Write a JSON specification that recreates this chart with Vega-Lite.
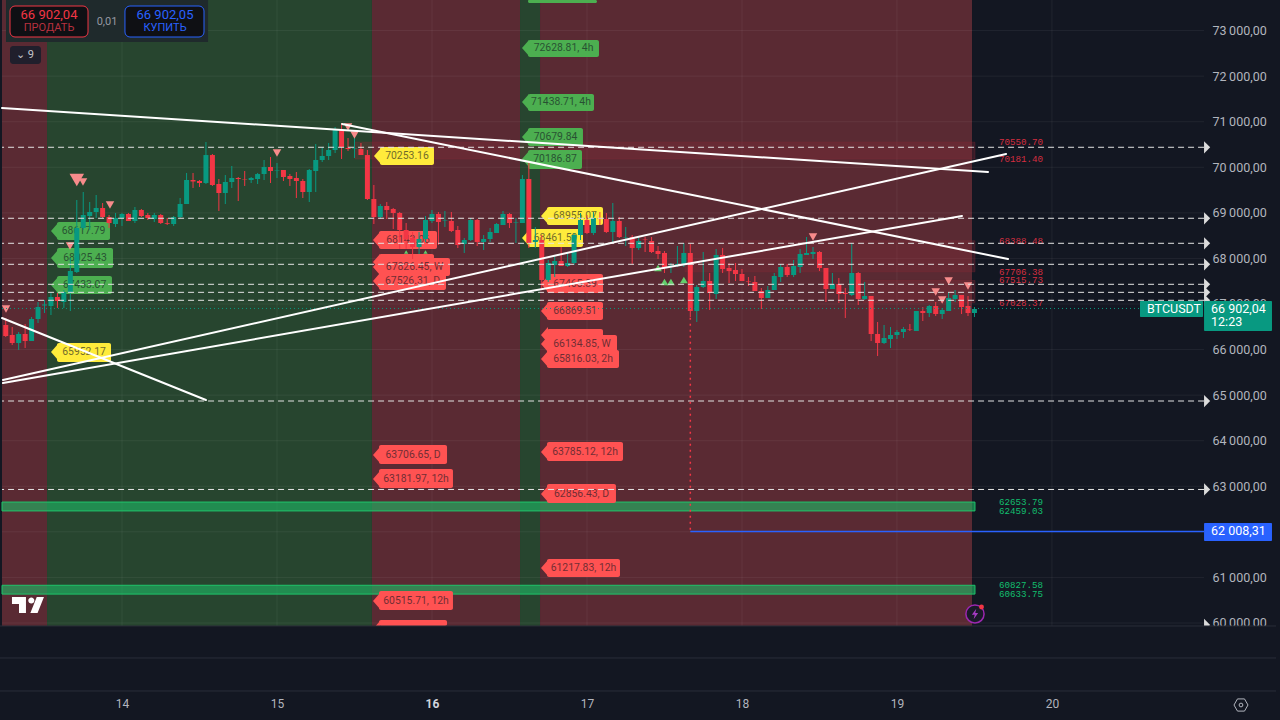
{
"$schema":"https://vega.github.io/schema/vega-lite/v6.json",
"width":1280,"height":720,"padding":0,"autosize":{"type":"none"},
"background":"#131722",
"config":{"view":{"stroke":null}},
"resolve":{"scale":{"color":"independent"}},
"datasets":{
"zones":[
{"h":-18.58,"h2":-11.61,"p":73671,"p2":59934,"kind":"sell"},
{"h":-11.61,"h2":38.71,"p":73671,"p2":59934,"kind":"buy"},
{"h":38.71,"h2":61.63,"p":73671,"p2":59934,"kind":"sell"},
{"h":61.63,"h2":64.73,"p":73671,"p2":59934,"kind":"buy"},
{"h":64.73,"h2":131.62,"p":73671,"p2":59934,"kind":"sell"}],
"lines":[
{"kind":"grid","h":-18.58,"h2":167.55,"p":60000,"p2":60000},{"kind":"grid","h":-18.58,"h2":167.55,"p":61000,"p2":61000},{"kind":"grid","h":-18.58,"h2":167.55,"p":62000,"p2":62000},{"kind":"grid","h":-18.58,"h2":167.55,"p":63000,"p2":63000},{"kind":"grid","h":-18.58,"h2":167.55,"p":64000,"p2":64000},{"kind":"grid","h":-18.58,"h2":167.55,"p":65000,"p2":65000},{"kind":"grid","h":-18.58,"h2":167.55,"p":66000,"p2":66000},{"kind":"grid","h":-18.58,"h2":167.55,"p":67000,"p2":67000},{"kind":"grid","h":-18.58,"h2":167.55,"p":68000,"p2":68000},{"kind":"grid","h":-18.58,"h2":167.55,"p":69000,"p2":69000},{"kind":"grid","h":-18.58,"h2":167.55,"p":70000,"p2":70000},{"kind":"grid","h":-18.58,"h2":167.55,"p":71000,"p2":71000},{"kind":"grid","h":-18.58,"h2":167.55,"p":72000,"p2":72000},{"kind":"grid","h":-18.58,"h2":167.55,"p":73000,"p2":73000},
{"kind":"grid","h":0,"h2":0,"p":73671,"p2":59934},{"kind":"grid","h":24,"h2":24,"p":73671,"p2":59934},{"kind":"grid","h":48,"h2":48,"p":73671,"p2":59934},{"kind":"grid","h":72,"h2":72,"p":73671,"p2":59934},{"kind":"grid","h":96,"h2":96,"p":73671,"p2":59934},{"kind":"grid","h":120,"h2":120,"p":73671,"p2":59934},{"kind":"grid","h":144,"h2":144,"p":73671,"p2":59934},
{"kind":"level","h":167.55,"h2":-18.58,"p":70439,"p2":70439},{"kind":"level","h":167.55,"h2":-18.58,"p":68881,"p2":68881},{"kind":"level","h":167.55,"h2":-18.58,"p":68332,"p2":68332},{"kind":"level","h":167.55,"h2":-18.58,"p":67871,"p2":67871},{"kind":"level","h":167.55,"h2":-18.58,"p":67432,"p2":67432},{"kind":"level","h":167.55,"h2":-18.58,"p":67256,"p2":67256},{"kind":"level","h":167.55,"h2":-18.58,"p":67081,"p2":67081},{"kind":"level","h":167.55,"h2":-18.58,"p":64871,"p2":64871},{"kind":"level","h":167.55,"h2":-18.58,"p":62930,"p2":62930},{"kind":"level","h":167.55,"h2":167.55,"p":59956,"p2":59956},
{"kind":"trend","h":-18.58,"h2":134.1,"p":71301,"p2":69897},
{"kind":"trend","h":34.07,"h2":137.2,"p":70950,"p2":67987},
{"kind":"trend","h":-18.43,"h2":136.9,"p":65332,"p2":70292},
{"kind":"trend","h":-18.43,"h2":130.07,"p":65266,"p2":68931},
{"kind":"trend","h":-18.58,"h2":13.0,"p":66692,"p2":64893},
{"kind":"last","h":-18.58,"h2":157.63,"p":66902,"p2":66902},
{"kind":"blue","h":88,"h2":167.55,"p":62008.31,"p2":62008.31},
{"kind":"hit","h":88,"h2":88,"p":66700,"p2":62017},
{"kind":"sep","h":-18.89,"h2":178.7,"p":59934,"p2":59934},
{"kind":"sep","h":-18.89,"h2":178.7,"p":59232,"p2":59232},
{"kind":"sep","h":-18.89,"h2":178.7,"p":58508,"p2":58508}],
"bands":[
{"kind":"red","h":36.08,"h2":132.08,"p":70550.7,"p2":70181.4},
{"kind":"red","h":87.18,"h2":132.08,"p":68388.48,"p2":67706.38},
{"kind":"red","h":114.74,"h2":132.08,"p":67515.73,"p2":67028.37}],
"greens":[
{"h":-18.58,"h2":132.08,"p":62653.79,"p2":62459.03},
{"h":-18.58,"h2":132.08,"p":60827.58,"p2":60633.75}],
"tags":[
{"kind":"green","h":62.87,"h2":73.55,"p":73820,"top":73671,"bot":73605},
{"kind":"green","h":62.87,"h2":73.86,"p":72618,"top":72793,"bot":72420},
{"kind":"green","h":62.87,"h2":73.09,"p":71433,"top":71608,"bot":71235},
{"kind":"green","h":62.87,"h2":71.38,"p":70665,"top":70862,"bot":70467},
{"kind":"green","h":62.87,"h2":71.23,"p":70182,"top":70379,"bot":69962},
{"kind":"green","h":-10.06,"h2":-1.86,"p":68602,"top":68799,"bot":68404},
{"kind":"green","h":-10.06,"h2":-1.39,"p":68009,"top":68229,"bot":67790},
{"kind":"green","h":-10.06,"h2":-1.55,"p":67417,"top":67614,"bot":67219},
{"kind":"yellow","h":-10.06,"h2":-1.7,"p":65947,"top":66144,"bot":65727},
{"kind":"yellow","h":39.95,"h2":48.31,"p":70248,"top":70445,"bot":70050},
{"kind":"yellow","h":65.81,"h2":74.48,"p":68931,"top":69129,"bot":68733},
{"kind":"yellow","h":62.87,"h2":71.38,"p":68448,"top":68646,"bot":68251},
{"kind":"red","h":39.8,"h2":48.78,"p":68404,"top":68602,"bot":68207},
{"kind":"red","h":39.8,"h2":48.31,"p":67922,"top":68097,"bot":67746},
{"kind":"red","h":39.8,"h2":50.17,"p":67505,"top":67680,"bot":67307},
{"kind":"red","h":39.8,"h2":50.79,"p":67812,"top":68009,"bot":67614},
{"kind":"red","h":65.81,"h2":74.48,"p":67439,"top":67658,"bot":67241},
{"kind":"red","h":65.81,"h2":74.48,"p":66846,"top":67044,"bot":66649},
{"kind":"red","h":65.81,"h2":74.48,"p":66320,"top":66451,"bot":66120},
{"kind":"red","h":65.81,"h2":76.65,"p":66122,"top":66320,"bot":65925},
{"kind":"red","h":65.81,"h2":76.96,"p":65793,"top":65991,"bot":65595},
{"kind":"red","h":39.8,"h2":50.33,"p":63686,"top":63906,"bot":63489},
{"kind":"red","h":39.8,"h2":51.25,"p":63160,"top":63379,"bot":62962},
{"kind":"red","h":65.81,"h2":77.58,"p":63752,"top":63972,"bot":63555},
{"kind":"red","h":65.81,"h2":76.49,"p":62830,"top":63050,"bot":62633},
{"kind":"red","h":65.81,"h2":77.11,"p":61207,"top":61404,"bot":61009},
{"kind":"red","h":39.8,"h2":51.25,"p":60483,"top":60702,"bot":60285},
{"kind":"red","h":39.8,"h2":50.33,"p":59868,"top":60066,"bot":59934}],
"tagText":[
{"h":68.37,"p":72618,"text":"72628.81, 4h"},{"h":67.98,"p":71433,"text":"71438.71, 4h"},{"h":67.13,"p":70665,"text":"70679.84"},{"h":67.05,"p":70182,"text":"70186.87"},
{"h":-5.96,"p":68602,"text":"68617.79"},{"h":-5.73,"p":68009,"text":"68025.43"},{"h":-5.81,"p":67417,"text":"67433.07"},{"h":-5.88,"p":65947,"text":"65952.17"},
{"h":44.13,"p":70248,"text":"70253.16"},{"h":70.15,"p":68931,"text":"68955.07"},{"h":67.13,"p":68448,"text":"68461.59"},{"h":44.29,"p":68404,"text":"68143.06"},
{"h":44.99,"p":67505,"text":"67526.31, D"},{"h":45.3,"p":67812,"text":"67826.45, W"},{"h":70.15,"p":67439,"text":"67465.39"},{"h":70.15,"p":66846,"text":"66869.51"},
{"h":71.23,"p":66122,"text":"66134.85, W"},{"h":71.39,"p":65793,"text":"65816.03, 2h"},{"h":45.07,"p":63686,"text":"63706.65, D"},{"h":45.53,"p":63160,"text":"63181.97, 12h"},
{"h":71.7,"p":63752,"text":"63785.12, 12h"},{"h":71.15,"p":62830,"text":"62856.43, D"},{"h":71.46,"p":61207,"text":"61217.83, 12h"},{"h":45.53,"p":60483,"text":"60515.71, 12h"}],
"candles":[
{"h":-18,"o":66539,"hi":66692,"lo":66276,"c":66298},{"h":-17,"o":66320,"hi":66495,"lo":66100,"c":66144},{"h":-16,"o":66144,"hi":66386,"lo":65991,"c":66342},{"h":-15,"o":66342,"hi":66561,"lo":66034,"c":66188},{"h":-14,"o":66188,"hi":66714,"lo":66188,"c":66671},{"h":-13,"o":66671,"hi":67044,"lo":66583,"c":66934},{"h":-12,"o":66967,"hi":67088,"lo":66802,"c":66989},{"h":-11,"o":66956,"hi":67241,"lo":66758,"c":67154},{"h":-10,"o":67154,"hi":67241,"lo":66912,"c":67066},{"h":-9,"o":67044,"hi":67307,"lo":66912,"c":67263},
{"h":-8,"o":67241,"hi":68009,"lo":66846,"c":67724},{"h":-7,"o":67702,"hi":69282,"lo":67680,"c":68668},{"h":-6,"o":68668,"hi":69458,"lo":68624,"c":68953},{"h":-5,"o":68931,"hi":69238,"lo":68624,"c":69019},{"h":-4,"o":69019,"hi":69392,"lo":68887,"c":69107},{"h":-3,"o":69107,"hi":69216,"lo":68887,"c":68909},{"h":-2,"o":68909,"hi":68953,"lo":68668,"c":68777},{"h":-1,"o":68755,"hi":68997,"lo":68690,"c":68887},{"h":0,"o":68887,"hi":68997,"lo":68712,"c":68975},{"h":1,"o":68975,"hi":68997,"lo":68821,"c":68821},
{"h":2,"o":68821,"hi":69128,"lo":68777,"c":69063},{"h":3,"o":69063,"hi":69085,"lo":68909,"c":68931},{"h":4,"o":68953,"hi":68997,"lo":68843,"c":68887},{"h":5,"o":68865,"hi":68997,"lo":68799,"c":68953},{"h":6,"o":68953,"hi":68975,"lo":68755,"c":68777},{"h":7,"o":68777,"hi":68887,"lo":68733,"c":68760},{"h":8,"o":68755,"hi":68931,"lo":68712,"c":68909},{"h":9,"o":68909,"hi":69326,"lo":68887,"c":69194},{"h":10,"o":69194,"hi":69875,"lo":69194,"c":69721},{"h":11,"o":69721,"hi":69875,"lo":69546,"c":69688},
{"h":12,"o":69699,"hi":69721,"lo":69568,"c":69655},{"h":13,"o":69655,"hi":70555,"lo":69633,"c":70269},{"h":14,"o":70269,"hi":70291,"lo":69590,"c":69611},{"h":15,"o":69633,"hi":69743,"lo":69041,"c":69436},{"h":16,"o":69436,"hi":69830,"lo":69194,"c":69677},{"h":17,"o":69677,"hi":70028,"lo":69546,"c":69765},{"h":18,"o":69765,"hi":69787,"lo":69260,"c":69743},{"h":19,"o":69743,"hi":69918,"lo":69590,"c":69733},{"h":20,"o":69721,"hi":69787,"lo":69655,"c":69765},{"h":21,"o":69743,"hi":69875,"lo":69633,"c":69852},
{"h":22,"o":69852,"hi":70160,"lo":69721,"c":70006},{"h":23,"o":70006,"hi":70226,"lo":69655,"c":69918},{"h":24,"o":69918,"hi":70094,"lo":69765,"c":69929},{"h":25,"o":69940,"hi":69940,"lo":69699,"c":69787},{"h":26,"o":69809,"hi":69852,"lo":69590,"c":69743},{"h":27,"o":69765,"hi":69896,"lo":69326,"c":69699},{"h":28,"o":69699,"hi":69743,"lo":69326,"c":69458},{"h":29,"o":69458,"hi":69962,"lo":69238,"c":69940},{"h":30,"o":69918,"hi":70511,"lo":69458,"c":70160},{"h":31,"o":70160,"hi":70445,"lo":70116,"c":70248},
{"h":32,"o":70248,"hi":70533,"lo":70160,"c":70379},{"h":33,"o":70379,"hi":70884,"lo":70313,"c":70818},{"h":34,"o":70818,"hi":70972,"lo":70182,"c":70445},{"h":35,"o":70423,"hi":70643,"lo":70357,"c":70401},{"h":36,"o":70412,"hi":70708,"lo":70204,"c":70423},{"h":37,"o":70401,"hi":70533,"lo":70269,"c":70269},{"h":38,"o":70269,"hi":70379,"lo":69282,"c":69304},{"h":39,"o":69304,"hi":69611,"lo":68755,"c":68909},{"h":40,"o":68909,"hi":69194,"lo":68865,"c":69150},{"h":41,"o":69150,"hi":69238,"lo":68865,"c":69063},
{"h":42,"o":69085,"hi":69107,"lo":68646,"c":68997},{"h":43,"o":68997,"hi":69019,"lo":68207,"c":68624},{"h":44,"o":68624,"hi":68777,"lo":68207,"c":68426},{"h":45,"o":68448,"hi":68580,"lo":67987,"c":68251},{"h":46,"o":68251,"hi":68580,"lo":68097,"c":68426},{"h":47,"o":68426,"hi":68931,"lo":68360,"c":68843},{"h":48,"o":68821,"hi":69063,"lo":68777,"c":68975},{"h":49,"o":68975,"hi":69019,"lo":68294,"c":68799},{"h":50,"o":68832,"hi":69041,"lo":68690,"c":68843},{"h":51,"o":68821,"hi":69019,"lo":68580,"c":68602},
{"h":52,"o":68624,"hi":68712,"lo":68228,"c":68294},{"h":53,"o":68316,"hi":68448,"lo":68119,"c":68404},{"h":54,"o":68404,"hi":68887,"lo":68382,"c":68843},{"h":55,"o":68843,"hi":68865,"lo":68272,"c":68360},{"h":56,"o":68360,"hi":68514,"lo":68185,"c":68426},{"h":57,"o":68426,"hi":68668,"lo":68360,"c":68580},{"h":58,"o":68558,"hi":68777,"lo":68558,"c":68755},{"h":59,"o":68733,"hi":69041,"lo":68733,"c":68975},{"h":60,"o":68975,"hi":68997,"lo":68668,"c":68777},{"h":61,"o":68788,"hi":68887,"lo":68338,"c":68799},
{"h":62,"o":68777,"hi":69830,"lo":68777,"c":69743},{"h":63,"o":69743,"hi":70116,"lo":68228,"c":68338},{"h":64,"o":68360,"hi":68690,"lo":68228,"c":68404},{"h":65,"o":68404,"hi":68514,"lo":67307,"c":67527},{"h":66,"o":67527,"hi":67966,"lo":67483,"c":67900},{"h":67,"o":67856,"hi":68053,"lo":67592,"c":67944},{"h":68,"o":67944,"hi":68251,"lo":67834,"c":67834},{"h":69,"o":67834,"hi":68119,"lo":67812,"c":67900},{"h":70,"o":67900,"hi":68558,"lo":67856,"c":68514},{"h":71,"o":68514,"hi":68997,"lo":68404,"c":68843},
{"h":72,"o":68843,"hi":68953,"lo":68536,"c":68558},{"h":73,"o":68558,"hi":69019,"lo":68514,"c":68887},{"h":74,"o":68887,"hi":69019,"lo":68733,"c":68876},{"h":75,"o":68865,"hi":68997,"lo":68558,"c":68580},{"h":76,"o":68580,"hi":69216,"lo":68360,"c":68821},{"h":77,"o":68821,"hi":68909,"lo":68448,"c":68470},{"h":78,"o":68459,"hi":68690,"lo":68272,"c":68470},{"h":79,"o":68470,"hi":68514,"lo":67878,"c":68228},{"h":80,"o":68228,"hi":68470,"lo":68185,"c":68382},{"h":81,"o":68415,"hi":68470,"lo":68141,"c":68404},
{"h":82,"o":68382,"hi":68470,"lo":68119,"c":68141},{"h":83,"o":68163,"hi":68272,"lo":67987,"c":68097},{"h":84,"o":68119,"hi":68163,"lo":67680,"c":67790},{"h":85,"o":67823,"hi":67900,"lo":67680,"c":67845},{"h":86,"o":67834,"hi":68272,"lo":67812,"c":67878},{"h":87,"o":67878,"hi":68338,"lo":67812,"c":68119},{"h":88,"o":68119,"hi":68316,"lo":66714,"c":66846},{"h":89,"o":66846,"hi":67417,"lo":66605,"c":67373},{"h":90,"o":67373,"hi":68141,"lo":67351,"c":67505},{"h":91,"o":67505,"hi":67680,"lo":66868,"c":67241},
{"h":92,"o":67219,"hi":68207,"lo":67110,"c":68075},{"h":93,"o":68075,"hi":68228,"lo":67680,"c":67768},{"h":94,"o":67790,"hi":67900,"lo":67461,"c":67724},{"h":95,"o":67746,"hi":67900,"lo":67505,"c":67658},{"h":96,"o":67658,"hi":67768,"lo":67505,"c":67505},{"h":97,"o":67494,"hi":67592,"lo":67395,"c":67483},{"h":98,"o":67483,"hi":67614,"lo":67285,"c":67285},{"h":99,"o":67285,"hi":67351,"lo":66890,"c":67132},{"h":100,"o":67132,"hi":67395,"lo":67132,"c":67307},{"h":101,"o":67307,"hi":67680,"lo":67307,"c":67614},
{"h":102,"o":67592,"hi":67878,"lo":67483,"c":67812},{"h":103,"o":67812,"hi":67878,"lo":67592,"c":67636},{"h":104,"o":67636,"hi":67966,"lo":67592,"c":67834},{"h":105,"o":67812,"hi":68207,"lo":67680,"c":68097},{"h":106,"o":68075,"hi":68470,"lo":68075,"c":68119},{"h":107,"o":68097,"hi":68251,"lo":67987,"c":68141},{"h":108,"o":68141,"hi":68163,"lo":67724,"c":67790},{"h":109,"o":67790,"hi":67790,"lo":67044,"c":67329},{"h":110,"o":67329,"hi":67680,"lo":67329,"c":67439},{"h":111,"o":67439,"hi":67570,"lo":67022,"c":67219},
{"h":112,"o":67241,"hi":67351,"lo":66692,"c":67219},{"h":113,"o":67197,"hi":68338,"lo":67175,"c":67680},{"h":114,"o":67680,"hi":67702,"lo":66978,"c":67110},{"h":115,"o":67110,"hi":67483,"lo":67088,"c":67175},{"h":116,"o":67175,"hi":67175,"lo":66188,"c":66342},{"h":117,"o":66342,"hi":66605,"lo":65859,"c":66144},{"h":118,"o":66144,"hi":66539,"lo":66122,"c":66254},{"h":119,"o":66232,"hi":66495,"lo":66034,"c":66320},{"h":120,"o":66320,"hi":66430,"lo":66232,"c":66386},{"h":121,"o":66386,"hi":66495,"lo":66254,"c":66451},
{"h":122,"o":66440,"hi":66561,"lo":66408,"c":66430},{"h":123,"o":66408,"hi":66846,"lo":66408,"c":66846},{"h":124,"o":66846,"hi":66934,"lo":66627,"c":66802},{"h":125,"o":66802,"hi":66978,"lo":66714,"c":66956},{"h":126,"o":66956,"hi":67044,"lo":66736,"c":66780},{"h":127,"o":66780,"hi":66912,"lo":66671,"c":66868},{"h":128,"o":66846,"hi":67263,"lo":66846,"c":67132},{"h":129,"o":67110,"hi":67307,"lo":67044,"c":67197},{"h":130,"o":67197,"hi":67197,"lo":66780,"c":66934},{"h":131,"o":66956,"hi":67175,"lo":66736,"c":66802},{"h":132,"o":66802,"hi":66934,"lo":66714,"c":66890}],
"markers":[
{"kind":"big","h":-7,"p":69721},
{"kind":"down","h":-6.04,"p":69677},{"kind":"down","h":-17.96,"p":66890},{"kind":"down","h":-8.05,"p":68273},{"kind":"down","h":-1.86,"p":69172},{"kind":"down","h":24,"p":70314},{"kind":"down","h":35,"p":70884},{"kind":"down","h":36,"p":70709},{"kind":"down","h":107,"p":68470},{"kind":"down","h":126,"p":67263},{"kind":"down","h":127,"p":67088},{"kind":"down","h":128,"p":67505},{"kind":"down","h":131,"p":67395},
{"kind":"up","h":83,"p":67790},{"kind":"up","h":84,"p":67483},{"kind":"up","h":85,"p":67483},{"kind":"up","h":87,"p":67527},
{"kind":"tiny","h":44,"p":68141},{"kind":"tiny","h":47,"p":68141}],
"bandText":[
{"kind":"red","h":135.8,"p":70550.7,"text":"70550.70"},{"kind":"red","h":135.8,"p":70181.4,"text":"70181.40"},{"kind":"red","h":135.8,"p":68388.48,"text":"68388.48"},{"kind":"red","h":135.8,"p":67706.38,"text":"67706.38"},{"kind":"red","h":135.8,"p":67515.73,"text":"67515.73"},{"kind":"red","h":135.8,"p":67028.37,"text":"67028.37"},
{"kind":"green","h":135.8,"p":62653.79,"text":"62653.79"},{"kind":"green","h":135.8,"p":62459.03,"text":"62459.03"},{"kind":"green","h":135.8,"p":60827.58,"text":"60827.58"},{"kind":"green","h":135.8,"p":60633.75,"text":"60633.75"}],
"priceBoxes":[
{"kind":"last","h":157.63,"h2":167.39,"p":67066,"p2":66715},
{"kind":"last","h":167.55,"h2":178.07,"p":67066,"p2":66407},
{"kind":"blue","h":167.55,"h2":178.07,"p":62194,"p2":61799}],
"priceText":[
{"h":157.63,"p":66890,"text":"BTCUSDT"},
{"h":167.55,"p":66890,"text":"66 902,04"},
{"h":167.55,"p":66605,"text":"12:23"},
{"h":167.55,"p":62017,"text":"62 008,31"}],
"uiBoxes":[
{"kind":"panel","h":-17.96,"h2":13.32,"p":73671,"p2":72749},
{"kind":"sell","h":-17.34,"h2":-5.26,"p":73539,"p2":72859},
{"kind":"buy","h":0.46,"h2":12.7,"p":73539,"p2":72859},
{"kind":"count","h":-17.34,"h2":-12.54,"p":72662,"p2":72267}],
"uiBig":[
{"kind":"sell","h":-11.3,"p":73342,"text":"66 902,04"},
{"kind":"buy","h":6.66,"p":73342,"text":"66 902,05"}],
"uiSmall":[
{"kind":"sell","h":-11.3,"p":73046,"text":"ПРОДАТЬ"},
{"kind":"buy","h":6.66,"p":73046,"text":"КУПИТЬ"},
{"kind":"muted","h":-2.32,"p":73188,"text":"0,01"},
{"kind":"light","h":-15.02,"p":72464,"text":"⌄ 9"}],
"icons":[
{"kind":"logo","h":-14.56,"p":60395},
{"kind":"ring","h":132.08,"p":60198},
{"kind":"bolt","h":132.08,"p":60198},
{"kind":"dot","h":133.09,"p":60351},
{"kind":"gear","h":173.27,"p":58200},
{"kind":"gearHole","h":173.27,"p":58200}]
},
"encoding":{
"x":{"field":"h","type":"quantitative","scale":{"domain":[-18.89,179.31],"nice":false,"zero":false,"padding":0},
 "axis":{"orient":"bottom","offset":-22,"domain":false,"ticks":false,"grid":false,"title":null,"values":[0,24,48,72,96,120,144],"labelExpr":"datum.value/24+14","labelPadding":0,"labelFont":"Roboto","labelFontSize":12,"labelBaseline":"top","labelColor":{"condition":{"test":"datum.value==48","value":"#d1d4dc"},"value":"#b2b5be"},"labelFontWeight":{"condition":{"test":"datum.value==48","value":"bold"},"value":"normal"},"zindex":1}},
"y":{"field":"p","type":"quantitative","scale":{"domain":[57871,73671],"nice":false,"zero":false},
 "axis":{"orient":"right","offset":-68,"domain":false,"ticks":false,"grid":false,"title":null,"values":[60000,61000,62000,63000,64000,65000,66000,67000,68000,69000,70000,71000,72000,73000],"labelExpr":"replace(replace(format(datum.value,',.2f'),',','\u2009'),'.',',')","labelPadding":0,"labelFont":"Roboto","labelFontSize":12.5,"labelColor":"#b2b5be","zindex":0}}
},
"layer":[
{"data":{"name":"zones"},"mark":{"type":"rect"},"encoding":{"x2":{"field":"h2"},"y2":{"field":"p2"},"color":{"field":"kind","type":"nominal","legend":null,"scale":{"domain":["sell","buy"],"range":["#5a2a33","#27452f"]}}}},
{"data":{"name":"lines"},"transform":[{"filter":"datum.kind=='grid'"}],"mark":{"type":"rule","color":"#ffffff","opacity":0.06,"strokeWidth":1},"encoding":{"x2":{"field":"h2"},"y2":{"field":"p2"}}},
{"data":{"name":"bands"},"mark":{"type":"rect","fill":"#8a2a38","fillOpacity":0.3,"stroke":"#8a2a38","strokeOpacity":0.3,"strokeWidth":1},"encoding":{"x2":{"field":"h2"},"y2":{"field":"p2"}}},
{"data":{"name":"greens"},"mark":{"type":"rect","fill":"#1fb866","fillOpacity":0.62,"stroke":"#1fc46a","strokeWidth":1},"encoding":{"x2":{"field":"h2"},"y2":{"field":"p2"}}},
{"data":{"name":"bandText"},"mark":{"type":"text","align":"left","baseline":"middle","font":"Liberation Mono","fontSize":9.2},"encoding":{"text":{"field":"text"},"color":{"field":"kind","type":"nominal","legend":null,"scale":{"domain":["red","green"],"range":["#d42e40","#12bf6e"]}}}},
{"data":{"name":"tags"},"mark":{"type":"rect","cornerRadius":2},"encoding":{"x2":{"field":"h2"},"y":{"field":"top","type":"quantitative","scale":{"domain":[57871,73671],"nice":false,"zero":false},"axis":{"orient":"right","offset":-68,"domain":false,"ticks":false,"grid":false,"title":null,"values":[60000,61000,62000,63000,64000,65000,66000,67000,68000,69000,70000,71000,72000,73000],"labelExpr":"replace(replace(format(datum.value,',.2f'),',','\u2009'),'.',',')","labelPadding":0,"labelFont":"Roboto","labelFontSize":12.5,"labelColor":"#b2b5be","zindex":0}},"y2":{"field":"bot"},"color":{"field":"kind","type":"nominal","legend":null,"scale":{"domain":["green","yellow","red"],"range":["#4caf50","#ffeb3b","#ff5252"]}}}},
{"data":{"name":"tags"},"mark":{"type":"point","filled":true,"opacity":1,"size":100,"shape":"M0.2,-1.6 L-1.2,0 L0.2,1.6 Z"},"encoding":{"color":{"field":"kind","type":"nominal","legend":null,"scale":{"domain":["green","yellow","red"],"range":["#4caf50","#ffeb3b","#ff5252"]}}}},
{"data":{"name":"tagText"},"mark":{"type":"text","align":"center","baseline":"middle","font":"Roboto","fontSize":10.4,"color":"#131722","opacity":0.62},"encoding":{"text":{"field":"text"}}},
{"data":{"name":"candles"},"mark":{"type":"rule","strokeWidth":1},"encoding":{"y":{"field":"hi","type":"quantitative","scale":{"domain":[57871,73671],"nice":false,"zero":false},"axis":{"orient":"right","offset":-68,"domain":false,"ticks":false,"grid":false,"title":null,"values":[60000,61000,62000,63000,64000,65000,66000,67000,68000,69000,70000,71000,72000,73000],"labelExpr":"replace(replace(format(datum.value,',.2f'),',','\u2009'),'.',',')","labelPadding":0,"labelFont":"Roboto","labelFontSize":12.5,"labelColor":"#b2b5be","zindex":0}},"y2":{"field":"lo"},"color":{"condition":{"test":"datum.c>=datum.o","value":"#089981"},"value":"#f23645"}}},
{"data":{"name":"candles"},"mark":{"type":"bar","width":5},"encoding":{"y":{"field":"o","type":"quantitative","scale":{"domain":[57871,73671],"nice":false,"zero":false},"axis":{"orient":"right","offset":-68,"domain":false,"ticks":false,"grid":false,"title":null,"values":[60000,61000,62000,63000,64000,65000,66000,67000,68000,69000,70000,71000,72000,73000],"labelExpr":"replace(replace(format(datum.value,',.2f'),',','\u2009'),'.',',')","labelPadding":0,"labelFont":"Roboto","labelFontSize":12.5,"labelColor":"#b2b5be","zindex":0}},"y2":{"field":"c"},"color":{"condition":{"test":"datum.c>=datum.o","value":"#089981"},"value":"#f23645"}}},
{"data":{"name":"markers"},"transform":[{"filter":"datum.kind=='down'"}],"mark":{"type":"point","shape":"triangle-down","filled":true,"opacity":1,"size":72,"color":"#f78b8b"}},
{"data":{"name":"markers"},"transform":[{"filter":"datum.kind=='big'"}],"mark":{"type":"point","shape":"triangle-down","filled":true,"opacity":1,"size":210,"color":"#f78b8b"}},
{"data":{"name":"markers"},"transform":[{"filter":"datum.kind=='up'"}],"mark":{"type":"point","shape":"triangle-up","filled":true,"opacity":1,"size":60,"color":"#63cf6c"}},
{"data":{"name":"markers"},"transform":[{"filter":"datum.kind=='tiny'"}],"mark":{"type":"point","shape":"triangle-up","filled":true,"opacity":1,"size":18,"color":"#63cf6c"}},
{"data":{"name":"lines"},"transform":[{"filter":"datum.kind=='level'"}],"mark":{"type":"rule","color":"#e4e4e4","strokeWidth":1,"strokeDash":[6,4]},"encoding":{"x2":{"field":"h2"},"y2":{"field":"p2"}}},
{"data":{"name":"lines"},"transform":[{"filter":"datum.kind=='level'"}],"mark":{"type":"point","filled":true,"opacity":1,"size":150,"color":"#dcdcdc","shape":"M0,-1 L1,0 L0,1 Z"}},
{"data":{"name":"lines"},"transform":[{"filter":"datum.kind=='last'"}],"mark":{"type":"rule","color":"#089981","strokeWidth":1,"strokeDash":[1,3]},"encoding":{"x2":{"field":"h2"},"y2":{"field":"p2"}}},
{"data":{"name":"lines"},"transform":[{"filter":"datum.kind=='blue'"}],"mark":{"type":"rule","color":"#2962ff","strokeWidth":1.6},"encoding":{"x2":{"field":"h2"},"y2":{"field":"p2"}}},
{"data":{"name":"lines"},"transform":[{"filter":"datum.kind=='hit'"}],"mark":{"type":"rule","color":"#f23645","strokeWidth":1.5,"strokeDash":[2,4]},"encoding":{"x2":{"field":"h2"},"y2":{"field":"p2"}}},
{"data":{"name":"lines"},"transform":[{"filter":"datum.kind=='trend'"}],"mark":{"type":"rule","color":"#ffffff","strokeWidth":2,"strokeCap":"round"},"encoding":{"x2":{"field":"h2"},"y2":{"field":"p2"}}},
{"data":{"values":[{"h":-18.89,"h2":179.31,"p":59934,"p2":57871}]},"mark":{"type":"rect","fill":"#131722"},"encoding":{"x2":{"field":"h2"},"y2":{"field":"p2"}}},
{"data":{"name":"lines"},"transform":[{"filter":"datum.kind=='sep'"}],"mark":{"type":"rule","color":"#2a2e39","strokeWidth":1},"encoding":{"x2":{"field":"h2"},"y2":{"field":"p2"}}},
{"data":{"name":"priceBoxes"},"mark":{"type":"rect","cornerRadius":1},"encoding":{"x2":{"field":"h2"},"y2":{"field":"p2"},"color":{"field":"kind","type":"nominal","legend":null,"scale":{"domain":["last","blue"],"range":["#089981","#2962ff"]}}}},
{"data":{"name":"priceText"},"mark":{"type":"text","align":"left","baseline":"middle","dx":7,"font":"Roboto","fontSize":12.5,"color":"#ffffff"},"encoding":{"text":{"field":"text"}}},
{"data":{"name":"uiBoxes"},"transform":[{"filter":"datum.kind=='panel'"}],"mark":{"type":"rect","fill":"#1f2a2c"},"encoding":{"x2":{"field":"h2"},"y2":{"field":"p2"}}},
{"data":{"name":"uiBoxes"},"transform":[{"filter":"datum.kind=='count'"}],"mark":{"type":"rect","fill":"#201f2c","cornerRadius":3},"encoding":{"x2":{"field":"h2"},"y2":{"field":"p2"}}},
{"data":{"name":"uiBoxes"},"transform":[{"filter":"datum.kind=='sell'"}],"mark":{"type":"rect","fill":"#0f1014","stroke":"#f23645","strokeWidth":1,"cornerRadius":5},"encoding":{"x2":{"field":"h2"},"y2":{"field":"p2"}}},
{"data":{"name":"uiBoxes"},"transform":[{"filter":"datum.kind=='buy'"}],"mark":{"type":"rect","fill":"#0f1014","stroke":"#2962ff","strokeWidth":1,"cornerRadius":5},"encoding":{"x2":{"field":"h2"},"y2":{"field":"p2"}}},
{"data":{"name":"uiBig"},"mark":{"type":"text","align":"center","baseline":"middle","font":"Roboto","fontSize":13},"encoding":{"text":{"field":"text"},"color":{"field":"kind","type":"nominal","legend":null,"scale":{"domain":["sell","buy"],"range":["#f23645","#2962ff"]}}}},
{"data":{"name":"uiSmall"},"mark":{"type":"text","align":"center","baseline":"middle","font":"Roboto","fontSize":11},"encoding":{"text":{"field":"text"},"color":{"field":"kind","type":"nominal","legend":null,"scale":{"domain":["sell","buy","muted","light"],"range":["#b8303f","#2962ff","#9598a1","#c4c6cc"]}}}},
{"data":{"name":"icons"},"transform":[{"filter":"datum.kind=='logo'"}],"mark":{"type":"point","filled":true,"opacity":1,"size":1024,"color":"#ffffff","shape":"M-1,-0.5 H-0.125 V0.5 H-0.56 V-0.06 H-1 Z M0.02,-0.28 a0.19,0.19 0 1,0 0.38,0 a0.19,0.19 0 1,0 -0.38,0 Z M0.55,-0.5 H1 L0.6,0.5 H0.15 Z"}},
{"data":{"name":"icons"},"transform":[{"filter":"datum.kind=='ring'"}],"mark":{"type":"point","shape":"circle","filled":true,"opacity":1,"size":330,"fill":"#1a1a28","stroke":"#9c27b0","strokeWidth":1.5}},
{"data":{"name":"icons"},"transform":[{"filter":"datum.kind=='bolt'"}],"mark":{"type":"point","filled":true,"opacity":1,"size":110,"color":"#a63bc4","shape":"M0.25,-1 L-0.6,0.15 L-0.05,0.15 L-0.25,1 L0.6,-0.2 L0.05,-0.2 Z"}},
{"data":{"name":"icons"},"transform":[{"filter":"datum.kind=='dot'"}],"mark":{"type":"point","shape":"circle","filled":true,"opacity":1,"size":24,"color":"#f23645"}},
{"data":{"name":"icons"},"transform":[{"filter":"datum.kind=='gear'"}],"mark":{"type":"point","filled":false,"opacity":1,"size":196,"color":"#b2b5be","strokeWidth":1,"shape":"M-1,0 L-0.5,-0.87 L0.5,-0.87 L1,0 L0.5,0.87 L-0.5,0.87 Z"}},
{"data":{"name":"icons"},"transform":[{"filter":"datum.kind=='gearHole'"}],"mark":{"type":"point","shape":"circle","filled":false,"opacity":1,"size":14,"color":"#b2b5be","strokeWidth":1}}
]
}
